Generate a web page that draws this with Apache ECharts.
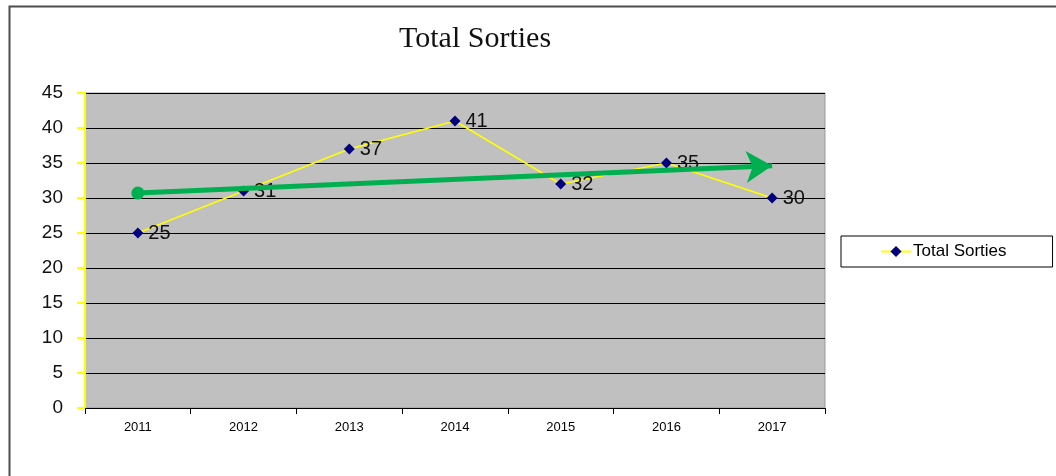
<!DOCTYPE html>
<html>
<head>
<meta charset="utf-8">
<script src="https://cdn.jsdelivr.net/npm/echarts@6/dist/echarts.min.js"></script>
<style>
  html, body { margin: 0; padding: 0; background: #fff; }
  #chart { width: 1056px; height: 476px; }
</style>
</head>
<body>
<div id="chart"></div>
<script>
!function () {
    const years = ['2011', '2012', '2013', '2014', '2015', '2016', '2017'];
    const sorties = [25, 31, 37, 41, 32, 35, 30];
    // trend arrow: [category index, value]
    const trendStart = [0, 30.7];
    const trendEnd = [5.9, 34.6];

    const myChart = echarts.init(document.getElementById('chart'));

    const option = {
        animation: false,
        backgroundColor: '#fff',
        graphic: [{
            type: 'rect',
            left: 7, top: 4,
            shape: { width: 1060, height: 480 },
            style: { fill: 'none', stroke: '#4d4d4d', lineWidth: 2 },
            z: -1
        }],
        title: {
            text: 'Total Sorties',
            left: 394,
            top: 19,
            textStyle: {
                fontFamily: 'Liberation Serif',
                fontWeight: 'normal',
                fontSize: 30,
                color: '#111'
            }
        },
        legend: {
            left: 841,
            top: 236,
            padding: [7, 46, 7, 39],
            backgroundColor: '#fff',
            borderColor: '#000',
            borderWidth: 1,
            borderRadius: 0,
            itemWidth: 30,
            itemHeight: 14,
            textStyle: { fontFamily: 'Arial, Liberation Sans', fontSize: 17, color: '#000', padding: [0, 0, 0, -3] },
            data: ['Total Sorties']
        },
        grid: {
            left: 85, right: 231, top: 93, bottom: 68,
            show: true,
            backgroundColor: '#c0c0c0',
            borderColor: '#999',
            borderWidth: 1
        },
        xAxis: {
            type: 'category',
            data: years,
            boundaryGap: true,
            axisLine: { lineStyle: { color: '#000', width: 1 } },
            axisTick: { show: true, length: 6, lineStyle: { color: '#000' } },
            axisLabel: { margin: 13, fontFamily: 'Arial, Liberation Sans', fontSize: 13, color: '#000' },
            splitLine: { show: false }
        },
        yAxis: {
            type: 'value',
            min: 0, max: 45, interval: 5,
            axisLine: { show: true, lineStyle: { color: '#ffff00', width: 2 } },
            axisTick: { show: true, length: 8, lineStyle: { color: '#ffff00', width: 2 } },
            axisLabel: { margin: 22, fontFamily: 'Arial, Liberation Sans', fontSize: 19, color: '#111' },
            splitLine: { show: true, lineStyle: { color: '#000', width: 1 } }
        },
        series: [{
            name: 'Total Sorties',
            type: 'line',
            data: sorties,
            symbol: 'diamond',
            symbolSize: 11,
            itemStyle: { color: '#000080' },
            lineStyle: { color: '#ffff00', width: 1.5 },
            label: {
                show: true,
                position: 'right',
                distance: 5,
                fontFamily: 'Arial, Liberation Sans',
                fontSize: 20,
                color: '#111'
            },
            markLine: {
                silent: true,
                animation: false,
                label: { show: false },
                lineStyle: { color: '#00b050', width: 5, type: 'solid' },
                data: [[
                    { coord: trendStart, symbol: 'circle', symbolSize: 13 },
                    { coord: trendEnd, symbol: 'arrow', symbolSize: [24, 26] }
                ]]
            }
        }]
    };

    myChart.setOption(option);
}();
</script>
</body>
</html>
